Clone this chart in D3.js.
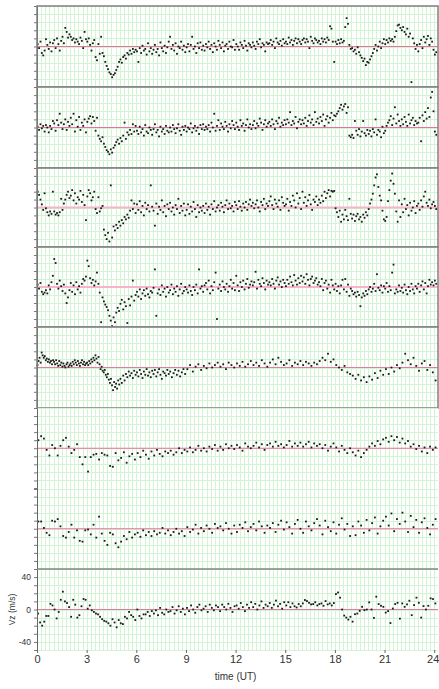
<!DOCTYPE html>
<html>
<head>
<meta charset="utf-8">
<script src="https://cdn.jsdelivr.net/npm/d3@7"></script>
<style>
  body { margin: 0; background: #fff; }
  text { font-family: "Liberation Sans", Arial, sans-serif; }
</style>
</head>
<body>
<svg id="chart"></svg>
<script>
// Values, one row per hour of UT (row 24 = the bit past 24h)
// panels 1-7 are in grid units (one grid cell = 1), the bottom panel is Vz in m/s
const panel1 = [
  [0.3, -0.2, 0.6, -0.8, -1.1, -0.5, 0.9, 0.2, -0.3, 0.5, -0.6, 0.4],
  [0.8, -0.2, 1.0, 0.3, -0.5, 0.7, 1.2, 0.4, 2.3, 1.8, 1.1, 1.5],
  [1.2, 0.8, 1.0, 0.5, 0.9, 0.6, 0.3, 1.1, 0.7, -0.2, 1.8, 0.9],
  [0.6, 1.0, 0.2, -0.5, 0.4, 0.8, -1.3, -1.7, 0.3, -0.9, 1.2, -0.8],
  [-1.2, -1.9, -2.4, -2.8, -3.2, -3.4, -3.8, -3.5, -3.3, -2.9, -2.5, -1.9],
  [-1.6, -2.0, -1.3, -1.1, -1.5, -0.8, -1.0, -0.5, -0.9, -0.3, -0.7, -0.4],
  [-0.6, -1.9, -0.2, -0.8, 0.1, -0.5, -0.3, -1.0, 0.4, -0.6, -0.2, -0.9],
  [-0.4, 0.2, -0.7, -0.3, -1.1, 0.5, -0.2, -0.6, 0.1, -0.8, -0.1, 0.6],
  [1.2, -0.3, 0.2, -0.5, 0.4, -0.9, 0.0, -0.2, 0.6, -0.4, 0.1, -0.7],
  [-0.1, 0.3, -0.6, 0.2, 1.2, -0.3, 0.0, -0.8, 0.4, -0.2, 0.5, -0.4],
  [0.1, -0.5, 0.3, -0.1, 0.6, -0.3, 0.2, -0.7, 0.4, 0.0, -0.4, 0.7],
  [0.2, -0.2, 0.5, -0.6, 0.1, 0.3, -0.3, 0.6, 0.0, -0.1, 0.8, -0.4],
  [0.3, 0.0, -0.4, 0.5, 0.2, -0.2, 0.7, 0.1, -0.5, 0.4, 0.2, -0.1],
  [0.5, 0.1, -0.3, 0.6, 0.3, 0.9, -0.1, 0.4, 0.2, -0.6, 0.5, 0.3],
  [0.4, 0.8, 0.2, 0.6, -0.2, 1.0, 0.5, 0.3, 0.7, 0.1, 0.9, 0.4],
  [0.6, 0.3, 1.1, 0.5, 0.8, 0.2, 0.7, 1.0, 0.4, 0.9, 0.6, 0.3],
  [0.8, 1.0, 0.5, 0.9, 0.6, -0.2, 1.2, 0.7, 0.4, 1.0, 0.8, 0.5],
  [0.7, 0.3, 1.0, 0.6, 0.9, 0.5, 1.1, 0.8, 2.5, 2.2, 0.6, -1.9],
  [0.6, 0.3, 0.8, 0.4, 0.9, 0.5, 0.7, 2.4, 3.5, 2.8, 0.2, -0.3],
  [-0.2, -0.6, -0.4, -0.9, -0.1, -0.7, -1.1, -1.4, -1.8, -1.5, -2.3, -1.9],
  [-2.0, -1.6, -1.2, -0.8, -0.3, 0.2, -0.5, 0.0, 0.6, -0.2, 0.4, 0.9],
  [0.3, 0.8, 0.5, 1.0, 0.7, 0.9, 0.6, 1.2, 1.9, 2.6, 2.7, 2.3],
  [2.0, 2.4, 1.8, 1.5, 2.2, 1.2, 1.6, -4.4, 1.0, 0.4, -0.3, 0.2],
  [-0.6, 0.3, 0.8, -0.2, 1.2, 0.5, 0.9, 1.3, 0.2, 1.0, 0.6, -0.4],
  [-1.0, -0.7]
];

const panel2 = [
  [0.1, -0.3, 0.4, -0.1, 0.2, -0.5, 0.3, 0.0, -0.6, 0.2, -0.2, 0.8],
  [0.5, -0.4, 0.9, 0.3, 1.7, 0.6, -0.2, 0.4, 1.0, -0.3, 0.7, 0.2],
  [1.2, 0.4, 1.7, -0.5, 0.9, 0.1, 1.3, -0.3, 0.6, 0.2, 1.0, -0.6],
  [0.7, 1.1, 1.4, 0.5, 1.3, 0.8, -0.4, 1.2, -1.0, -1.4, -1.7, -1.2],
  [-2.0, -2.4, -2.8, -3.0, -3.3, -2.7, -3.1, -2.5, -2.2, -1.8, -1.5, -2.0],
  [-1.3, -1.7, -1.0, 0.6, -1.4, -0.6, -0.9, -0.3, -0.8, 0.4, -0.5, 0.2],
  [-0.4, -0.8, 0.1, -0.6, -0.2, -1.0, 0.3, -0.5, -0.7, 0.0, -0.3, -0.9],
  [-0.2, 0.4, -0.6, -0.3, -1.1, 0.1, -0.5, -0.2, -0.8, 0.2, -0.4, -0.6],
  [0.0, -0.5, 0.3, -0.2, -0.7, -0.1, 0.4, -0.4, -0.9, 0.1, -0.3, 0.2],
  [-0.5, 0.0, -0.2, 0.5, -0.6, -0.1, 0.2, -0.4, 0.0, -0.8, 0.3, -0.2],
  [0.4, -0.3, 0.1, -0.2, 0.3, -0.5, 0.6, 0.0, 1.7, -0.4, 0.2, 0.9],
  [-0.3, 0.5, 0.1, -0.2, 0.7, 0.2, -0.5, 0.4, -0.1, 0.8, 0.3, -0.2],
  [0.6, 0.1, -0.3, 0.9, 0.2, 0.5, -0.4, 0.3, 1.0, 0.0, 0.4, -0.2],
  [0.3, 0.8, -0.1, 0.5, 0.2, 1.1, 0.6, -0.3, 0.4, 0.9, 0.1, 0.5],
  [0.7, 0.2, 1.0, 0.4, -0.2, 0.8, 0.5, 1.2, 0.1, 0.6, 0.3, 0.9],
  [0.4, 1.0, 0.6, 1.9, 0.3, 0.8, 0.5, 1.3, -0.1, 0.7, 1.0, 0.4],
  [0.9, 0.5, 1.2, 0.2, 0.8, 1.5, 0.6, 1.0, 0.3, 1.9, 0.7, 1.1],
  [0.5, 1.3, 0.8, 1.6, 0.2, 1.0, 1.4, 0.6, 1.2, 1.8, 0.9, 1.5],
  [1.4, 1.7, 2.0, 2.4, 2.8, 2.2, 2.6, 2.9, 1.8, 2.5, -1.0, -1.2],
  [-0.9, -1.3, 0.8, -0.4, -0.9, -0.2, -1.1, -0.5, 0.8, -0.7, -1.0, -0.3],
  [-0.8, -0.4, -1.1, -0.2, -0.6, 1.0, -0.9, -0.3, -0.5, -1.2, 0.1, -0.7],
  [-0.4, 0.2, 0.6, 0.9, 1.4, 0.3, 1.1, 2.5, 0.5, 1.6, 0.8, 0.2],
  [1.0, 0.4, 1.3, 0.7, 0.2, 1.6, 0.5, 0.9, 1.2, 0.3, 0.8, 0.5],
  [0.6, 1.2, -1.7, 1.5, 0.8, 1.9, 1.1, 2.4, 1.3, 3.7, 4.4, 2.0],
  [-0.5, -0.9]
];

const panel3 = [
  [2.0, 1.6, 1.0, 0.4, -0.3, 1.8, -0.1, -0.6, -1.0, -0.5, -0.8, 2.0],
  [-0.5, -0.9, -0.7, -1.0, -0.6, 1.1, -0.3, 0.5, 1.0, 1.6, 2.0, 1.2],
  [1.5, 2.2, 0.9, 1.8, 0.5, 1.3, 1.0, 2.1, 0.7, 1.6, 0.3, -1.6],
  [1.4, 2.2, 1.8, 0.9, 1.3, 2.0, -0.2, -0.7, 1.3, -0.5, -0.1, 0.2],
  [-2.8, -3.5, -4.0, -3.2, -4.3, 2.8, -3.8, -2.4, -2.9, -2.2, -2.6, -1.8],
  [-2.3, -1.6, -2.0, -1.2, -1.5, -0.9, -1.3, -0.4, 0.9, -0.2, 0.5, -0.7],
  [0.4, -0.3, 0.8, -0.6, 0.2, -1.0, 0.6, -0.2, 0.3, -0.5, 2.8, 0.1],
  [-0.4, -2.3, 0.5, -0.8, 0.1, -0.3, 0.9, -0.6, 0.2, -1.1, 0.4, -0.2],
  [0.6, -0.5, 0.0, -0.9, 0.3, -0.2, 1.1, -0.7, 0.2, -0.4, 0.5, -1.0],
  [-0.3, 0.4, -0.8, 0.1, -0.5, 0.7, -0.2, -1.2, 0.3, -0.6, 0.0, -0.4],
  [0.2, -0.7, 0.5, -0.3, 0.1, -0.9, 0.4, -0.2, 0.8, -0.5, 0.0, 0.3],
  [-0.4, 0.6, 0.1, -0.6, 0.3, 0.9, -0.2, 0.5, -0.1, 0.2, -0.5, 0.7],
  [0.3, -0.2, 0.8, 0.1, -0.4, 0.5, 0.0, 0.7, -0.3, 0.4, 1.0, 0.2],
  [0.6, -0.1, 0.4, 0.9, 0.0, -0.5, 0.7, 0.3, 1.1, -0.2, 0.5, 0.2],
  [0.8, 1.4, 0.3, -0.2, 1.0, 0.5, 0.1, 0.9, -0.3, 1.3, 0.6, 0.2],
  [0.4, 1.1, -0.4, 0.7, 0.2, 1.5, 0.9, 0.0, 1.8, 0.5, 1.2, -0.2],
  [2.0, 0.6, 1.3, 0.2, 0.9, 1.6, 0.4, -0.3, 1.0, 0.7, 1.4, 0.3],
  [1.0, 0.6, 1.5, 0.8, 2.0, 1.2, 1.8, 2.2, 1.4, 2.1, 2.0, 2.1],
  [-0.1, -0.6, -1.2, -0.4, -1.8, -0.9, -1.5, -0.3, -1.1, -1.6, 1.1, -0.8],
  [-1.4, -0.9, -1.7, -1.1, -0.8, -1.5, -1.2, -1.8, -0.9, -1.3, -0.6, -1.0],
  [-0.2, 0.5, 1.0, 1.75, 2.8, 3.8, 4.2, 2.6, 1.5, 0.9, -0.4, -1.5],
  [-1.7, -1.2, 0.8, 2.2, 3.4, 4.3, 3.0, 1.75, -0.5, -1.8, 0.9, -1.2],
  [0.4, -0.6, 1.1, -0.2, 0.3, -1.0, 0.6, -0.4, 0.0, 0.8, -0.7, 0.2],
  [0.5, -0.3, 0.9, 0.1, 1.4, 2.0, 0.6, 0.2, 1.0, -0.1, 0.4, 0.7],
  [0.2, -0.2]
];

const panel4 = [
  [0.3, -0.2, 0.5, -0.6, -0.9, -0.7, -0.4, -0.8, 0.2, -0.3, 0.6, 1.4],
  [3.5, 3.0, 0.4, -0.2, 0.8, 0.1, -0.5, 0.3, -0.8, -2.0, -1.3, -0.4],
  [0.5, -0.6, 0.2, -0.9, 0.6, -0.3, 0.1, -0.7, 0.4, 1.0, 0.8, 1.3],
  [3.3, 2.6, 1.1, 0.5, 0.9, 0.2, 0.7, 1.8, 0.4, -0.7, -4.4, -1.3],
  [-1.8, -2.2, -2.5, -2.9, -3.6, -4.2, -4.9, -3.8, -4.4, -3.2, -2.6, -3.0],
  [-2.1, -1.6, -2.8, -1.9, -2.4, -4.5, -1.5, -2.3, -1.2, 0.8, -1.7, -1.0],
  [-0.6, -1.2, -0.3, -1.5, -0.8, -0.4, -1.1, -0.2, -0.9, -1.3, -0.5, -0.7],
  [-0.1, 2.2, -3.6, -0.8, -0.3, -1.0, 0.2, -0.6, -0.2, -1.2, 0.0, -0.7],
  [-0.4, 0.3, -0.9, -0.2, -0.6, 0.1, -1.1, -0.3, 0.4, -0.8, -0.5, 0.0],
  [-0.3, -0.7, 0.2, -0.5, -1.0, 0.0, -0.4, 0.3, -0.8, 2.2, -0.2, 0.1],
  [-0.6, 0.2, 0.5, -0.3, 0.8, -0.8, 0.1, -0.4, 0.6, 1.8, -4.0, -0.2],
  [0.3, -0.5, 0.7, 0.0, -0.3, 0.4, -0.6, 0.1, 0.9, -0.2, 0.5, -0.4],
  [1.4, 0.2, -0.5, 0.6, 0.0, 0.8, -0.3, 0.4, 1.0, -0.1, 0.3, 0.7],
  [0.2, 0.6, 1.9, -0.2, 0.9, 0.4, 0.1, 1.1, 0.5, -0.3, 0.8, 0.3],
  [0.6, 0.2, 1.0, 0.4, -0.2, 0.8, 1.2, 0.3, 0.7, 0.0, 0.9, 0.5],
  [0.1, 0.9, 0.4, 1.3, 0.6, 0.2, 1.5, 0.8, 0.3, 1.1, 0.5, 1.4],
  [0.7, 1.2, 0.4, 1.6, 0.9, 0.2, 1.0, 1.3, 0.5, 0.8, 1.1, 0.3],
  [0.6, 0.1, 1.0, -0.4, 0.5, 0.8, -0.2, 0.3, -0.7, 0.9, 0.2, -0.3],
  [0.4, -0.5, 0.1, -0.8, 0.2, 0.9, -0.3, 1.0, -0.6, 0.3, -1.1, -0.2],
  [-0.5, -0.9, -0.7, -1.2, -0.6, -1.0, -2.4, -1.3, -0.8, -1.1, -0.5, -0.9],
  [-0.3, 0.0, -0.6, -0.2, 0.4, -0.5, 1.6, -0.1, -0.4, 0.2, -0.7, 0.1],
  [-0.2, 0.5, -0.6, 0.1, -0.4, 1.8, 2.8, -0.8, -0.3, -0.6, 0.2, -0.5],
  [-0.1, -0.7, 0.3, -0.4, -0.9, 0.0, -0.5, 0.4, -0.3, -0.8, 0.1, -0.2],
  [0.4, -0.6, 0.2, 0.7, -0.3, 0.5, -0.8, 0.1, 0.9, 0.3, 0.6, 0.2],
  [0.8, 0.4]
];

const panel5 = [
  [0.3, 0.8, 1.2, 0.6, 1.85, 1.5, 1.2, 1.4, 0.9, 1.1, 0.7, 1.0, 0.6, 0.8, 0.4, 0.9],
  [0.7, 0.4, 0.9, 0.5, 0.2, 0.8, 0.3, 0.6, 0.1, 0.5, 0.2, 0.0, 0.4, 0.6, 0.1, 0.3],
  [0.5, 0.2, 0.7, 0.4, 0.9, 0.6, 0.3, 0.8, 0.5, 0.2, 0.6, 0.9, 0.4, 0.7, 0.3, 0.5],
  [0.6, 0.3, 0.8, 0.5, 1.0, 0.7, 1.2, 0.9, 1.5, 1.1, 0.6, 1.3, 0.4, -0.2, 0.1, -0.4],
  [-0.6, -0.3, -0.9, -1.2, -0.8, -1.5, -1.9, -1.4, -2.2, -2.8, -1.8, -2.4, -2.0, -2.6, -1.6, -2.1],
  [-1.4, -1.9, -1.0, -1.6, -0.8, -1.2, -0.5, -1.0, -0.7, -1.3, -0.4, -0.9],
  [-0.6, -1.1, -0.3, -0.8, -1.3, -0.5, -0.9, -0.2, -1.0, -0.6, -1.2, -0.4],
  [-0.8, -0.3, -1.1, -0.6, -0.2, -0.9, -1.4, -0.5, -0.7, -1.0, -0.3, -0.8],
  [-0.5, -1.2, -0.7, -0.3, -0.9, -0.4, -1.1, -0.6, -0.2, -0.8],
  [-0.2, 0.3, -0.5, 0.1, 0.4, -0.3],
  [0.2, -0.1, 0.5, 0.0, 0.3, 0.6],
  [0.1, 0.4, -0.2, 0.6, 0.3, 0.0],
  [0.5, 0.2, 0.7, 0.1, 0.4, 0.8],
  [0.3, 0.6, 0.2, 0.9, 0.5, 0.1],
  [0.6, 1.0, 0.4, 1.2, 0.7, 0.3],
  [0.5, 0.9, 0.2, 0.6, 0.4, 0.8],
  [0.3, 0.7, 0.5, 0.2, 0.6, 0.4],
  [0.8, 1.2, 0.9, 1.7, 0.7, 1.0],
  [0.3, 0.0, -0.3, 0.2, -0.6, -0.8],
  [-1.0, -1.4, -0.9, -1.6, -1.2, -1.8],
  [-1.1, -1.5, -0.7, -1.3, -0.4, -0.9],
  [-0.2, -0.8, 0.0, -0.5, 0.3, -0.1],
  [0.6, 1.7, 0.9, 0.4, 1.2, 0.2],
  [-0.4, 0.5, 0.8, -0.3, 0.3, -0.6],
  [-1.6]
];

const panel6 = [
  [1.0, 1.5, 1.2, -0.2, -0.9, 0.4],
  [0.0, -0.9, 0.3, 1.0, 1.3, 0.2],
  [-0.6, -0.2, 0.5, -1.1, -2.0, -1.1],
  [-2.9, -1.1, -0.8, -0.7, -1.4, -0.6],
  [-0.8, -0.9, -2.2, -2.3, -0.6, -1.5],
  [-1.2, -0.5, -1.8, -1.0, -0.7, -1.4],
  [-0.6, -1.1, -0.3, -0.8, -1.3, -0.4],
  [-0.9, -0.2, -0.7, -1.0, -0.4, -0.6],
  [-0.3, -0.8, -0.5, 0.0, -0.6, -0.2],
  [-0.4, 0.1, -0.5, -0.2, 0.3, -0.3],
  [0.0, -0.4, 0.2, -0.1, 0.4, -0.3],
  [0.2, -0.2, 0.5, 0.0, 0.3, -0.1],
  [0.4, 0.1, -0.3, 0.6, 0.2, 0.0],
  [0.3, 0.7, 0.1, 0.5, -0.2, 0.4],
  [0.6, 0.2, 0.8, 0.3, 0.5, 0.1],
  [0.4, 0.9, 0.2, 0.6, 0.3, 0.7],
  [0.2, 0.5, 0.8, 0.1, 0.6, 0.3],
  [0.5, 0.0, 0.4, -0.3, 0.2, 0.6],
  [0.1, -0.4, 0.3, -0.2, -0.6, 0.0],
  [-0.5, -0.9, -0.3, -1.1, -0.6, -0.2],
  [0.2, 0.6, 0.3, 0.9, 0.5, 1.1],
  [1.3, 0.8, 1.5, 1.0, 1.4, 0.7],
  [1.2, 0.6, 0.9, 0.2, 0.5, -0.1],
  [0.3, -0.4, 0.1, -0.6, 0.2, -0.2],
  [0.1]
];

const panel7 = [
  [0.9, 0.9, 0.1, -0.5, -0.8, 1.0],
  [0.9, 1.2, 0.3, -0.9, -1.1, -0.4],
  [0.5, -1.1, -0.2, -1.5, -1.6, -0.2],
  [-0.1, -0.7, 0.5, -1.1, 1.5, -0.6],
  [-1.5, -2.0, -0.5, -0.7, -1.8, -2.3],
  [-1.6, -0.9, -1.3, -0.4, -1.1, -0.7],
  [-0.5, -1.0, -0.2, -0.8, -0.4, -0.9],
  [-0.3, -0.7, -0.5, 0.1, -0.6, -0.2],
  [-0.8, -0.4, 0.0, -0.6, -0.3, -0.9],
  [0.2, -0.4, -0.1, 0.5, -0.6, 0.1],
  [-0.3, 0.4, 0.0, -0.5, 0.6, 0.1],
  [0.3, -0.2, 0.7, 0.0, -0.6, 0.4],
  [-0.4, 0.5, 0.1, 0.8, -0.3, 0.2],
  [0.6, -0.2, 0.9, 0.3, -0.5, 0.4],
  [0.1, 0.7, -0.4, 0.5, 1.0, -0.1],
  [0.8, 0.2, -0.6, 0.6, 1.1, 0.0],
  [-0.5, 0.9, 0.3, -0.2, 0.7, 1.2],
  [0.4, -0.7, 1.0, 0.2, -0.3, 0.8],
  [-0.6, 0.5, 1.3, -0.1, 0.6, -0.9],
  [0.3, -0.8, 0.9, 0.4, -0.5, 1.1],
  [-0.2, 0.7, 1.4, -0.6, 0.3, 1.0],
  [1.5, 0.4, 1.9, -0.3, 1.2, 0.6],
  [2.0, 0.9, -0.4, 1.6, 0.2, 1.1],
  [-0.5, 0.8, 1.3, 0.1, -0.7, 0.5],
  [1.2]
];

// bottom panel: Vz in m/s
const vz = [
  [-5, -16, -20, -15, -8, -8, 7, 5],
  [0, -11, -3, 12, 22, 10, 8, 3],
  [-9, 12, 6, -10, -7, 4, 13, 12],
  [1, 5, -1, -3, -5, -6, -9, -12],
  [-14, -15, -17, -20, -12, -16, -22, -13],
  [-17, -18, -9, -11, -3, -7, -9, -13],
  [0, -8, -11, -6, -6, -3, -8, -2],
  [-5, -1, -7, 2, -4, -6, 0, -3],
  [-2, 3, -5, -1, 4, -3, 1, -6],
  [2, -2, 5, 0, -4, 3, 6, -1],
  [1, 4, -3, 6, 2, -1, 5, 3],
  [-2, 6, 3, 0, 7, 2, -3, 4],
  [5, 1, 8, 3, -2, 6, 2, 9],
  [3, 7, 0, 5, 10, 2, 6, 4],
  [8, 2, 6, 11, 4, 7, 1, 9],
  [5, 9, 3, 7.5, 4, 2.5, 6.7, 4],
  [7.5, 11.7, 10.4, 8.3, 6.3, 6.7, 9, 5],
  [6.7, 7.5, 4.6, 10.4, 6.3, 7.5, 5, 8],
  [19, 21, 14.6, 0, -7.5, -10, -12.5, -9],
  [-15, -5.8, -5, -1.7, 3.3, -0.8, 0],
  [8.8, 0, -10.4, 15.8, 6.7, 4.6, 3.3],
  [-3.8, -2, -16.7, 1.2, 6.7, 8.3, -11.3],
  [7.5, 3.3, 6.3, 10.8, -7, 5.4, 14.6],
  [8.3, -10, 4.2, 0, 4.6, 13.75, 12.9],
  [7.5, 0]
];

const xTicks = [0, 3, 6, 9, 12, 15, 18, 21, 24];
const vzTicks = [40, 0, -40];
const xTitle = "time (UT)";
const vzTitle = "Vz (m/s)";

// Set dimensions
const width = 439;
const height = 689;
const plotLeft = 37;
const plotRight = 438;
// panel edges (top of each panel, then the bottom of the last)
const edges = [6, 87, 168, 247, 327, 408, 488.5, 569, 650];

const svg = d3.select("#chart").attr("width", width).attr("height", height);
svg.append("rect").attr("width", width).attr("height", height).attr("fill", "#fff");

const x = d3.scaleLinear().domain([0, 24.23]).range([plotLeft, plotRight]);

// panel settings: data, y domain, grid step, zero line colour / width
const panels = [
  { rows: panel1, domain: [-5, 5], step: 1, line: "#e8739a", lw: 1, frame: true },
  { rows: panel2, domain: [-5, 5], step: 1, line: "#e8739a", lw: 1, frame: true },
  { rows: panel3, domain: [-5, 5], step: 1, line: "#f5b4c8", lw: 2, frame: true },
  { rows: panel4, domain: [-5, 5], step: 1, line: "#f5b4c8", lw: 2, frame: true },
  { rows: panel5, domain: [-5, 5], step: 1, line: "#e27c9c", lw: 1, frame: true },
  { rows: panel6, domain: [-5, 5], step: 1, line: "#ec6f98", lw: 1.2, frame: false },
  { rows: panel7, domain: [-5, 5], step: 1, line: "#ec6f98", lw: 1.2, frame: false },
  { rows: vz, domain: [-50, 50], step: 10, line: "#e27c9c", lw: 1, frame: false }
];

// turn hourly rows into [time, value] points
function toPoints(rows) {
  const pts = [];
  rows.forEach((row, h) => {
    const n = h < 24 ? row.length : rows[23].length;
    row.forEach((v, k) => pts.push([h + (k + 0.5) / n, v]));
  });
  return pts;
}

const snap = (v) => Math.round(v) + 0.5;

panels.forEach((p, i) => {
  const y0 = edges[i];
  const y1 = edges[i + 1];
  const y = d3.scaleLinear().domain(p.domain).range([y1, y0]);
  const g = svg.append("g");

  // pale green grid
  const grid = g.append("g").attr("shape-rendering", "crispEdges").attr("stroke", "#d2f4d2").attr("stroke-width", 1);
  grid.selectAll(".vgrid")
    .data(d3.range(0, 24.23, 0.25))
    .enter()
    .append("line")
    .attr("x1", (d) => snap(x(d)))
    .attr("x2", (d) => snap(x(d)))
    .attr("y1", y0)
    .attr("y2", y1);

  grid.selectAll(".hgrid")
    .data(d3.range(p.domain[0], p.domain[1] + 0.01, p.step))
    .enter()
    .append("line")
    .attr("x1", plotLeft)
    .attr("x2", plotRight)
    .attr("y1", (d) => snap(y(d)))
    .attr("y2", (d) => snap(y(d)));

  // zero line
  g.append("line")
    .attr("x1", plotLeft)
    .attr("x2", plotRight)
    .attr("y1", y(0))
    .attr("y2", y(0))
    .attr("stroke", p.line)
    .attr("stroke-width", p.lw);

  // dots
  g.selectAll(".dot")
    .data(toPoints(p.rows).filter((d) => d[0] <= 24.2))
    .enter()
    .append("rect")
    .attr("x", (d) => x(d[0]) - 0.9)
    .attr("y", (d) => y(d[1]) - 0.9)
    .attr("width", 1.8)
    .attr("height", 1.8)
    .attr("fill", "#1a1a1a");

  // left axis with small ticks
  const axis = d3.axisLeft(y).tickValues(d3.range(p.domain[0], p.domain[1] + 0.01, p.step)).tickSize(3).tickFormat("");
  if (i === 7) {
    axis.tickFormat((d) => (vzTicks.includes(d) ? d : ""));
  }
  const ax = g.append("g").attr("transform", `translate(${plotLeft},0)`).call(axis);
  ax.select(".domain").attr("stroke", "#666");
  ax.selectAll(".tick line").attr("stroke", "#777");
  ax.selectAll(".tick text").attr("font-size", 8.5).attr("fill", "#333").attr("font-family", "Liberation Sans, Arial, sans-serif");

  // frames
  if (p.frame) {
    g.append("rect")
      .attr("x", plotLeft)
      .attr("y", y0)
      .attr("width", plotRight - plotLeft)
      .attr("height", y1 - y0)
      .attr("fill", "none")
      .attr("stroke", "#808080")
      .attr("stroke-width", 1.5);
  }
  if (i === 7) {
    g.append("line")
      .attr("x1", plotLeft)
      .attr("x2", plotRight)
      .attr("y1", y0)
      .attr("y2", y0)
      .attr("stroke", "#7a8a7a")
      .attr("stroke-width", 1.5);
  }
});

// bottom time axis
const plotBottom = edges[8];
const xAxis = d3.axisBottom(x).tickValues(xTicks).tickSize(3).tickPadding(2);
const xg = svg.append("g").attr("transform", `translate(0,${plotBottom})`).call(xAxis);
xg.select(".domain").remove();
xg.selectAll(".tick line").attr("stroke", "#666");
xg.selectAll(".tick text")
  .attr("font-size", 11)
  .attr("fill", "#333")
  .attr("font-family", "Liberation Sans, Arial, sans-serif")
  .attr("dx", (d) => (d === 24 ? -1.5 : 0));

svg.append("text")
  .attr("x", (plotLeft + x(24)) / 2)
  .attr("y", 680)
  .attr("text-anchor", "middle")
  .attr("font-size", 10)
  .attr("fill", "#333")
  .text(xTitle);

svg.append("text")
  .attr("transform", `translate(15,${(edges[7] + edges[8]) / 2}) rotate(-90)`)
  .attr("text-anchor", "middle")
  .attr("font-size", 8.5)
  .attr("fill", "#333")
  .text(vzTitle);
</script>
</body>
</html>
